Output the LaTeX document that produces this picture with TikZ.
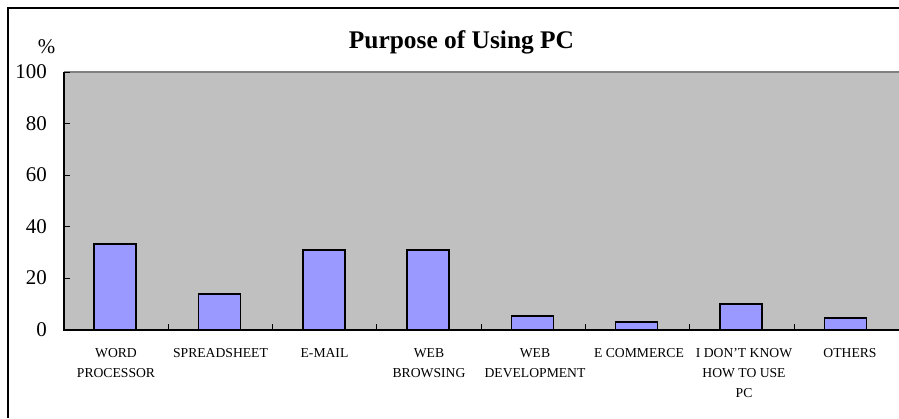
\documentclass[tikz,border=0pt]{standalone}
\usepackage{fontspec}
\setmainfont{Liberation Serif}
\definecolor{plotgray}{HTML}{C0C0C0}
\definecolor{framegray}{HTML}{808080}
\definecolor{barblue}{HTML}{9999FF}
\begin{document}
\begin{tikzpicture}[x=1bp,y=-1bp,
  barbox/.style={draw=black,fill=barblue,line width=1.5bp},
  ticklab/.style={anchor=base east,inner sep=0,font=\fontsize{21}{24}\selectfont},
  catlab/.style={anchor=north,inner sep=0,align=center,font=\fontsize{13.7}{20}\selectfont},
  titlelab/.style={anchor=base,inner sep=0,font=\fontsize{25.5}{28}\selectfont\bfseries}]
\useasboundingbox (0,0) rectangle (899,418);
% plot area
\fill[plotgray] (64,72) rectangle (899,330);
\draw[framegray,line width=1.2bp] (64,72) -- (899,72);
% outer frame
\draw[line width=1.4bp] (8,418) -- (8,8) -- (899,8);
% title
\node[titlelab] (title) at (461.5,48) {Purpose of Using PC};
\node[anchor=base,inner sep=0,font=\fontsize{21}{24}\selectfont] (pct) at (46.5,53) {\%};
% y ticks and labels
\foreach \v/\n in {0/t0,20/t20,40/t40,60/t60,80/t80,100/t100}{
  \pgfmathsetmacro{\yy}{330-2.58*\v}
  \draw[line width=1bp] (64,\yy) -- (70,\yy);
  \node[ticklab] (\n) at (47,\yy+6.5) {\v};
}
% bars
\foreach \i/\top in {1/244,2/294,3/250,4/250,5/316,6/322,7/304,8/318}{
  \pgfmathsetmacro{\cx}{64+104.3*(\i-0.5)-1}
  \draw[barbox] (\cx-21,330) rectangle (\cx+21,\top);
}
% category ticks
\foreach \i in {1,...,7}{
  \pgfmathsetmacro{\tx}{64+104.3*\i}
  \draw[line width=1bp] (\tx,330) -- (\tx,324);
}
% axes
\draw[line width=1.4bp] (64,72) -- (64,330) -- (899,330);
% category labels
\node[catlab] (c1) at (116,348.5) {WORD\\PROCESSOR};
\node[catlab] (c2) at (220.5,348.5) {SPREADSHEET};
\node[catlab] (c3) at (324.5,348.5) {E-MAIL};
\node[catlab] (c4) at (429,348.5) {WEB\\BROWSING};
\node[catlab] (c5) at (535,348.5) {WEB\\DEVELOPMENT};
\node[catlab] (c6) at (639,348.5) {E COMMERCE};
\node[catlab] (c7) at (744,348.5) {I DON'T KNOW\\HOW TO USE\\PC};
\node[catlab] (c8) at (850,348.5) {OTHERS};
\end{tikzpicture}
\end{document}
